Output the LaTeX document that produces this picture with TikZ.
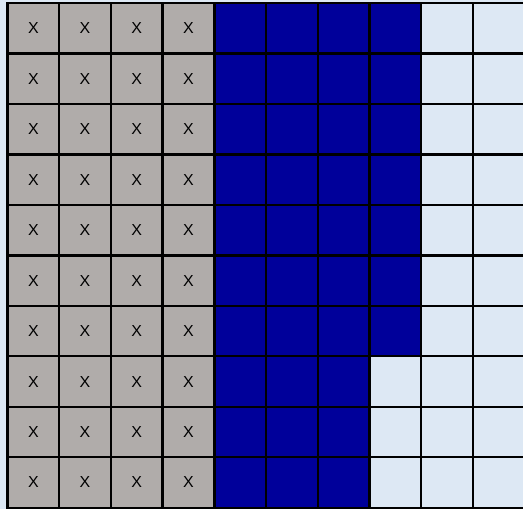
\documentclass[tikz,border=0pt]{standalone}
\usepackage{fontspec}
\setmainfont{Liberation Sans}
\definecolor{bgc}{HTML}{DDE8F4}
\definecolor{grayc}{HTML}{B0ACAA}
\definecolor{bluec}{HTML}{00009A}
\begin{document}
\begin{tikzpicture}[x=1bp,y=-1bp,
  cellbox/.style={draw=black,line width=2.4bp},
  xlabel/.style={font=\fontsize{16}{16}\selectfont,inner sep=0pt}]
\fill[bgc] (0,0) rectangle (523,509);
\useasboundingbox (0,0) rectangle (523,509);
\def\cw{51.7}
\def\rh{50.47}
\foreach \r in {0,...,9}{
  \foreach \c in {0,...,9}{
    \pgfmathsetmacro{\xa}{7.5+\c*\cw}
    \pgfmathsetmacro{\ya}{3+\r*\rh}
    \pgfmathsetmacro{\xb}{\xa+\cw}
    \pgfmathsetmacro{\yb}{\ya+\rh}
    \ifnum\c<4
      \def\fc{grayc}
    \else
      \ifnum\c<7
        \def\fc{bluec}
      \else
        \ifnum\c=7
          \ifnum\r<7 \def\fc{bluec}\else\def\fc{bgc}\fi
        \else
          \def\fc{bgc}
        \fi
      \fi
    \fi
    \filldraw[cellbox,fill=\fc] (\xa,\ya) rectangle (\xb,\yb);
    \ifnum\c<4
      \node[xlabel] (x\r\c) at ({(\xa+\xb)/2},{(\ya+\yb)/2}) {X};
    \fi
  }
}
\end{tikzpicture}
\end{document}
